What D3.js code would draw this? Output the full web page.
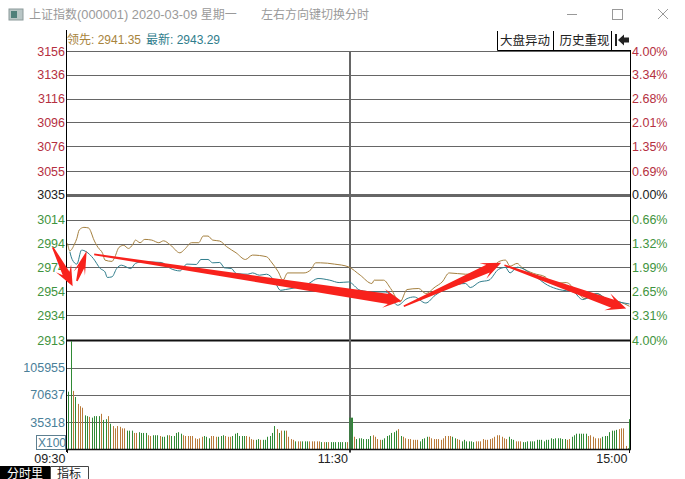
<html>
<head>
<meta charset="utf-8">
<style>
  body { margin:0; background:#fff; overflow:hidden; }
  text { font-family:"Liberation Sans","Noto Sans CJK SC",sans-serif; }
</style>
</head>
<body>
<script src="https://d3js.org/d3.v7.min.js"></script>
<svg id="chart" width="685" height="479"></svg>
<script>
// price axis, rows top to bottom
const priceTicks = [3156,3136,3116,3096,3076,3055,3035,3014,2994,2974,2954,2934,2913];
const pctLabels = ["4.00%","3.34%","2.68%","2.01%","1.35%","0.69%","0.00%","0.66%","1.32%","1.99%","2.65%","3.31%","4.00%"];
const volTicks = [105955,70637,35318];
const timeTicks = [[0,"09:30"],[120,"11:30"],[240,"15:00"]];

// lead line, minute since open and index value
const leadMin = [0,1,3,4,5,7,9,10,11,13,15,16,19,20,22,24,26,28,29,31,33,36,39,41,44,48,50,53,56,58,60,62,65,68,72,76,79,85,87,90,92,94,101,104,106,108,114,120,125,130,131,135,138,142,145,150,153,157,160,163,170,180,184,187,189,192,194,199,204,207,213,217,221,226,230,236,240];
const leadVal = [2994.2,2988,2993.7,2998.5,3005.5,3007.7,3007.2,3004,2998.5,2990.9,2985.8,2980.2,2979.1,2981.8,2990.9,2992.6,2990,2993.7,2997,2994.8,2997.6,2997,2994.8,2996.4,2992.8,2986.3,2989.2,2994.8,2994.8,3000.4,3000.4,2997,2996.2,2991.4,2986.3,2980.7,2984.4,2983,2978.7,2970.3,2963.3,2969.4,2969.4,2972.3,2977.9,2977.9,2976.8,2974.5,2967.5,2960.5,2963.3,2963.3,2956.3,2945,2955.4,2956.3,2952.1,2957.6,2961.8,2969.4,2968.3,2970.3,2978.7,2980.2,2975.1,2977.4,2974,2969,2966.1,2960.5,2961.3,2954.8,2947.8,2952.1,2947.8,2945,2941.35];

// latest line
const lastMin = [1,2,4,6,8,11,14,16,17,19,21,23,27,29,32,40,44,48,51,55,57,60,62,65,67,70,72,77,79,82,85,88,91,93,103,107,112,116,120,125,131,136,141,145,148,153,157,170,172,176,180,184,187,189,192,199,205,210,216,220,226,230,236,240];
const lastVal = [2987.2,2980.7,2976.8,2988.6,2987.2,2981.6,2973.1,2970.3,2965.6,2966.1,2973.1,2975.9,2973.1,2977.4,2978.7,2978.2,2973.1,2971.1,2976.8,2976.5,2980.7,2980.7,2977.9,2978.2,2973.7,2973.1,2969,2968.3,2969.4,2967.5,2968.3,2963.9,2954.8,2955.4,2960.5,2964.7,2963.3,2961.3,2961.8,2954.8,2953.4,2953.4,2942.2,2947.8,2949.2,2944.1,2950.6,2960.5,2957.1,2961.8,2963.3,2972.3,2974,2969.4,2974.2,2967.5,2959.1,2955.4,2953.4,2947,2952.1,2947.8,2944.7,2943.29];

// volume per minute, thousands (X100)
const volume = [
  75,141,76,68,59,56,54,44,43,42,
  41,43,43,43,46,38,39,43,33,30,
  27,30,29,27,27,24,24,24,21,21,
  22,21,21,21,18,17,18,18,18,17,
  16,16,18,18,17,17,21,22,20,18,
  17,17,17,17,14,13,14,16,17,16,
  14,17,17,16,16,17,18,17,16,16,
  17,20,21,17,17,17,17,16,13,12,
  12,13,12,12,12,16,17,21,30,26,
  21,24,24,24,16,13,12,10,10,10,
  10,10,10,10,10,10,10,10,9,9,
  9,9,9,9,9,9,9,9,9,9,
  8,41,16,13,14,14,13,13,13,17,
  18,16,13,12,12,14,17,18,21,22,
  24,26,17,16,14,13,13,12,12,12,
  10,13,14,16,16,14,13,13,13,12,
  14,17,17,17,16,14,13,12,10,12,
  10,10,10,9,10,10,10,13,12,12,
  13,14,16,18,18,16,14,13,16,13,
  12,10,10,10,9,9,10,10,10,10,
  12,12,12,10,12,12,14,13,14,14,
  14,13,13,12,13,16,18,20,20,20,
  20,20,17,18,16,14,14,14,16,17,
  17,22,24,24,25,26,27,27,4,1,
  39];
// 1 = rising minute (orange), 0 = falling minute (green)
const volUp = [
  0,0,1,0,1,1,1,0,0,1,
  0,0,0,0,1,0,0,1,0,1,
  1,1,1,1,1,0,0,0,1,1,
  0,0,0,0,1,1,0,0,0,1,
  0,0,0,1,0,0,0,0,0,1,
  1,1,1,1,1,1,1,1,0,0,
  0,1,1,1,0,0,0,1,1,1,
  0,0,0,0,0,0,1,1,1,1,
  0,0,1,0,0,0,0,0,0,1,
  0,1,0,1,1,1,1,0,1,1,
  0,0,0,1,1,1,1,1,0,1,
  0,1,0,0,0,0,0,0,0,1,
  0,0,1,0,0,0,0,0,0,0,
  1,1,1,1,0,0,0,0,0,0,
  0,1,0,1,1,1,1,1,1,1,
  0,0,0,0,1,1,1,1,1,1,
  1,1,1,1,0,0,1,1,0,0,
  0,0,0,0,1,1,1,1,1,1,
  1,1,1,1,1,1,1,1,0,0,
  0,1,1,1,0,0,0,0,0,0,
  0,0,0,0,0,0,0,0,0,0,
  0,0,0,1,1,0,0,0,0,0,
  0,0,1,1,1,1,1,1,0,0,
  0,0,0,0,0,1,1,1,1,0,
  0];

// hand drawn red arrows on the screenshot, tail and tip in minute/value, head sizes in px
const arrowFromMin = [-6.3,4,11.4,143.6,186.6];
const arrowFromVal = [2990.9,2962.7,2985,2941.3,2975.9];
const arrowToMin = [2.2,8.2,142.6,185.2,238.6];
const arrowToVal = [2958.2,2988,2945.8,2977.9,2939.4];
const arrowHead = [20,24,18,20,20];
const arrowHalf = [8.5,6,9.5,8.5,9];
const arrowNeck = [3.8,3,5,4.3,4.2];

const svg = d3.select("#chart");
const RED = "#b5303f", GREEN = "#3f9440", BLUE = "#4a8099", GRID = "#666";
const LEAD = "#a5803f", LAST = "#2f7d8c";

const x = d3.scaleLinear().domain([0,240]).range([67.5,629.5]);
const y = d3.scaleLinear().domain([2913,3156]).range([340,51]);
const yVol = d3.scaleLinear().domain([0,35.318]).range([449,422]);

svg.append("rect").attr("width",685).attr("height",479).attr("fill","#fff");

// title bar
svg.append("rect").attr("x",9).attr("y",9).attr("width",14).attr("height",11).attr("fill","#b9c6c6").attr("stroke","#8c9a9a");
svg.append("rect").attr("x",11).attr("y",11).attr("width",6).attr("height",7).attr("fill","#4f7f7a");
const title = svg.append("text").attr("x",29).attr("y",19).attr("font-size",12).attr("fill","#9a9a9a");
title.append("tspan").text("上证指数");
title.append("tspan").attr("font-size",12.8).text("(000001) 2020-03-09 ");
title.append("tspan").text("星期一");
svg.append("text").attr("x",261).attr("y",19).attr("font-size",12).attr("fill","#9a9a9a").text("左右方向键切换分时");
svg.append("line").attr("x1",567).attr("x2",577).attr("y1",14.5).attr("y2",14.5).attr("stroke","#999");
svg.append("rect").attr("x",612.5).attr("y",9.5).attr("width",10).attr("height",10).attr("fill","none").attr("stroke","#999");
svg.append("path").attr("d","M658,9L668,19M668,9L658,19").attr("stroke","#999").attr("fill","none");

// header values
svg.append("text").attr("x",67).attr("y",44).attr("font-size",12).attr("fill","#a8843c").text("领先: 2941.35");
svg.append("text").attr("x",146).attr("y",44).attr("font-size",12).attr("fill",LAST).text("最新: 2943.29");

// buttons
const btn = svg.append("g");
btn.append("path").attr("d","M497.5,31V50.5H630.5M553.5,31V50.5M611.5,31V50.5").attr("fill","none").attr("stroke","#000");
btn.append("text").attr("x",500).attr("y",45).attr("font-size",12.5).attr("fill","#222").text("大盘异动");
btn.append("text").attr("x",559.5).attr("y",45).attr("font-size",12.5).attr("fill","#222").text("历史重现");
btn.append("path").attr("d","M615,34H617V46H615ZM618,40L624,34.5V37.5H629V42.5H624V45.5Z").attr("fill","#222");

// grid
priceTicks.forEach(t => {
  const yy = Math.round(y(t));
  let c = GRID, w = 1;
  if (t == 3035) w = 3;
  if (t == 2913) { c = "#111"; w = 2; }
  svg.append("line").attr("x1",66).attr("x2",630).attr("y1",yy+0.5).attr("y2",yy+0.5)
     .attr("stroke",c).attr("stroke-width",w);
});
volTicks.forEach(t => {
  const yy = Math.round(yVol(t/1000));
  svg.append("line").attr("x1",66).attr("x2",630).attr("y1",yy+0.5).attr("y2",yy+0.5).attr("stroke",GRID);
});

// volume bars
svg.append("g").selectAll("rect").data(volume).join("rect")
   .attr("x",(d,i) => Math.min(629,Math.ceil(x(i)+0.3)))
   .attr("width",1)
   .attr("y",d => yVol(d))
   .attr("height",d => 449-yVol(d))
   .attr("fill",(d,i) => volUp[i] ? "#b97a3a" : "#2f8a35");

// session divider
svg.append("line").attr("x1",350).attr("x2",350).attr("y1",51).attr("y2",452).attr("stroke","#666").attr("stroke-width",2);
svg.append("rect").attr("x",349).attr("y",yVol(volume[121])).attr("width",3).attr("height",449-yVol(volume[121])).attr("fill","#3f7a45");

// frame
svg.append("path").attr("d","M66.5,30V452M630.5,50V449").attr("stroke","#000").attr("fill","none");
svg.append("line").attr("x1",66).attr("x2",631).attr("y1",449.5).attr("y2",449.5).attr("stroke","#111").attr("stroke-width",1.5);

// lines
const mkLine = d3.line().x(d => x(d[0])).y(d => y(d[1])).curve(d3.curveMonotoneX);
svg.append("path").attr("d",mkLine(d3.zip(leadMin,leadVal))).attr("fill","none").attr("stroke",LEAD).attr("stroke-width",1);
svg.append("path").attr("d",mkLine(d3.zip(lastMin,lastVal))).attr("fill","none").attr("stroke",LAST).attr("stroke-width",1);

// axes
function tickColor(i) { return i < 6 ? RED : (i == 6 ? "#222" : GREEN); }
const axL = svg.append("g").attr("transform","translate(66,0)")
   .call(d3.axisLeft(y).tickValues(priceTicks).tickSize(0).tickPadding(1).tickFormat(d3.format("d")));
const axR = svg.append("g").attr("transform","translate(630,0)")
   .call(d3.axisRight(y).tickValues(priceTicks).tickSize(0).tickPadding(2).tickFormat((d,i) => pctLabels[i]));
[axL,axR].forEach(a => {
  a.select(".domain").remove();
  a.attr("font-family",null);
  a.selectAll("text").attr("font-size",12.5).attr("fill",(d,i) => tickColor(i));
});

const axV = svg.append("g").attr("transform","translate(66,0)")
   .call(d3.axisLeft(yVol).tickValues(volTicks.map(d => d/1000)).tickSize(0).tickPadding(1).tickFormat((d,i) => volTicks[i]));
axV.attr("font-family",null);
axV.select(".domain").remove();
axV.selectAll("text").attr("font-size",12.5).attr("fill",BLUE);

// unit box
svg.append("rect").attr("x",36.5).attr("y",435.5).attr("width",29).attr("height",14).attr("fill","#fff").attr("stroke","#5d7f90");
svg.append("text").attr("x",38).attr("y",447).attr("font-size",12).attr("fill",BLUE).text("X100");

// time axis
timeTicks.forEach(t => {
  const tx = t[0]==120 ? 350 : x(t[0]);
  svg.append("line").attr("x1",tx).attr("x2",tx).attr("y1",449).attr("y2",453).attr("stroke","#111");
  svg.append("text").attr("x",tx-2).attr("y",463).attr("text-anchor","end").attr("font-size",12.5).attr("fill","#222").text(t[1]);
});

// bottom tabs
svg.append("rect").attr("x",0).attr("y",466).attr("width",50).attr("height",13).attr("fill","#000");
svg.append("text").attr("x",7).attr("y",477.5).attr("font-size",12).attr("fill","#fff").text("分时里");
svg.append("path").attr("d","M50.5,479V466.5H88.5V479").attr("fill","none").attr("stroke","#444");
svg.append("text").attr("x",57).attr("y",477.5).attr("font-size",12).attr("fill","#222").text("指标");

// red arrows
arrowFromMin.forEach((m,i) => {
  const x0 = x(m), y0 = y(arrowFromVal[i]), x1 = x(arrowToMin[i]), y1 = y(arrowToVal[i]);
  const len = Math.hypot(x1-x0,y1-y0), ux = (x1-x0)/len, uy = (y1-y0)/len, nx = -uy, ny = ux;
  const L = arrowHead[i], H = arrowHalf[i], N = arrowNeck[i];
  const bx = x1-ux*L, by = y1-uy*L, kx = x1-ux*L*0.72, ky = y1-uy*L*0.72;
  const pts = [[x0+nx*0.8,y0+ny*0.8],[kx+nx*N,ky+ny*N],[bx+nx*H,by+ny*H],[x1,y1],[bx-nx*H,by-ny*H],[kx-nx*N,ky-ny*N],[x0-nx*0.8,y0-ny*0.8]];
  svg.append("polygon").attr("points",pts.map(p => p.join(",")).join(" ")).attr("fill","#f8221c");
});
</script>
</body>
</html>
